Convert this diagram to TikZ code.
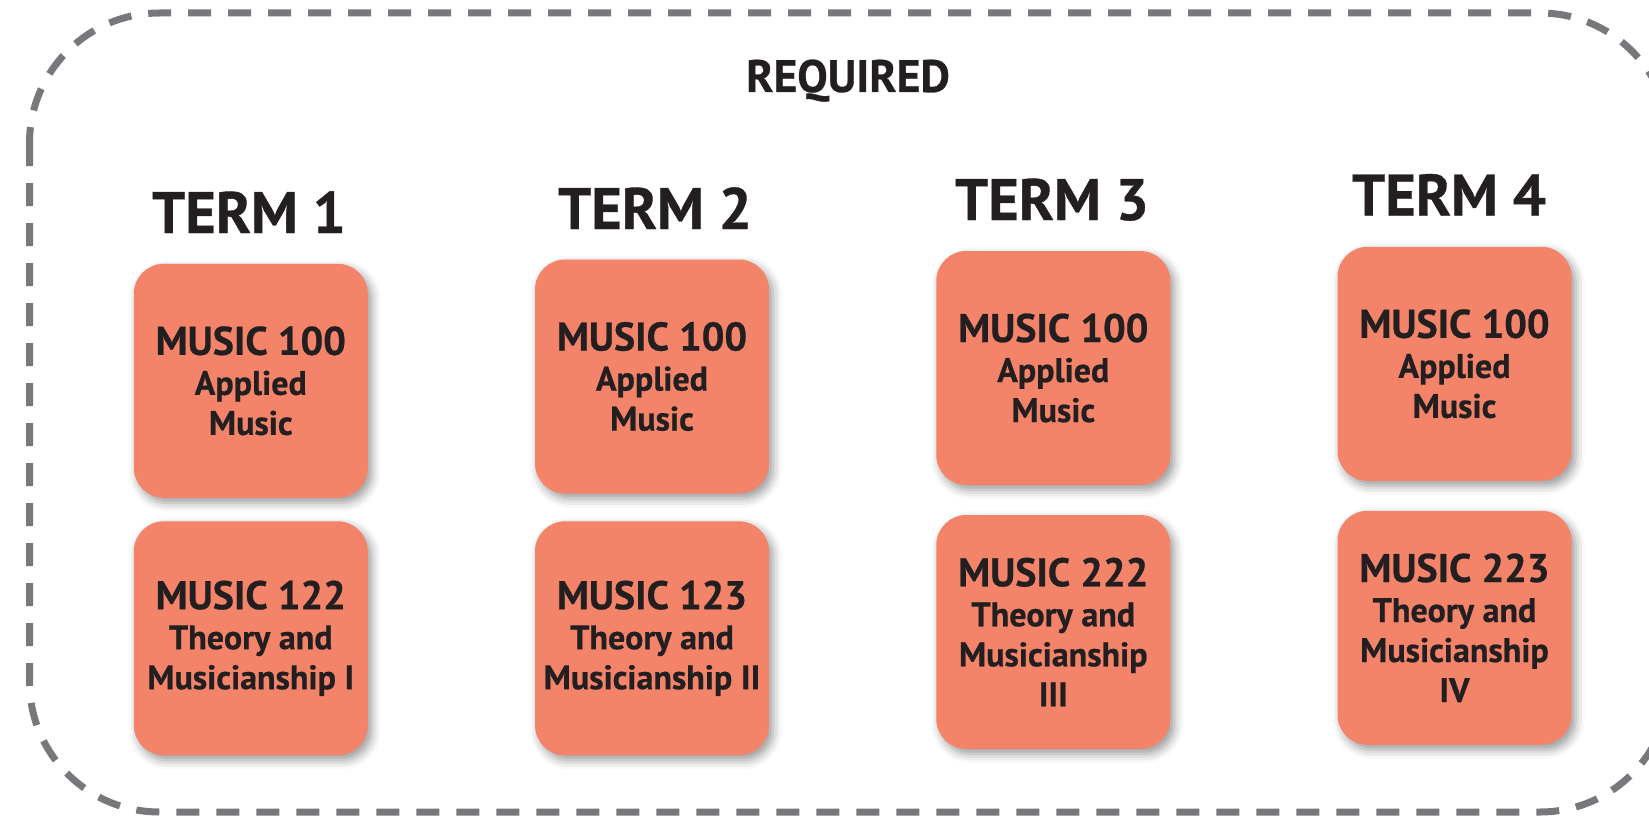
\documentclass[tikz,border=0pt]{standalone}
\usepackage{fontspec}
\setmainfont{PT Sans}[BoldFeatures={FakeBold=0.6}]
\usetikzlibrary{shadows.blur}
\definecolor{boxfill}{HTML}{F3846A}
\definecolor{ink}{HTML}{231F20}
\definecolor{dashgray}{HTML}{77787B}
\tikzset{
  course/.style={fill=boxfill, rounded corners=30pt, minimum width=234pt, minimum height=234pt,
    inner sep=0pt, align=center, text=ink, font=\bfseries\fontsize{34}{40}\selectfont,
    blur shadow={shadow xshift=4pt, shadow yshift=-5pt, shadow blur radius=9pt, shadow opacity=40}},
  termlabel/.style={anchor=base, text=ink, font=\bfseries\fontsize{58.5}{60}\selectfont, inner sep=0pt},
  heading/.style={anchor=base, text=ink, font=\bfseries\fontsize{45.5}{46}\selectfont, inner sep=0pt},
  frame/.style={draw=dashgray, line width=7pt, dash pattern=on 23pt off 17pt, rounded corners=130pt}
}
\newcommand{\code}[1]{{\fontsize{40}{40}\selectfont #1}}
\begin{document}
\begin{tikzpicture}[x=1pt,y=-1pt]
\useasboundingbox (0,0) rectangle (1649,816);
\begin{scope}
  \clip (0,0) rectangle (1649,816);
  \draw[frame] (29.5,13) rectangle (1670,812);
\end{scope}
\node[heading] (req) at (848,92) {REQUIRED};

\node[termlabel] (h1) at (249,233) {TERM 1};
\node[termlabel] (h2) at (655,229) {TERM 2};
\node[termlabel] (h3) at (1052,220) {TERM 3};
\node[termlabel] (h4) at (1449,215.5) {TERM 4};

\node[course] (t1a) at (250.8,380.8) {\code{MUSIC 100}\\Applied\\Music};
\node[course] (t1b) at (250.8,638.3) {\code{MUSIC 122}\\Theory and\\Musicianship I};
\node[course] (t2a) at (652,376.5) {\code{MUSIC 100}\\Applied\\Music};
\node[course] (t2b) at (652,638.3) {\code{MUSIC 123}\\Theory and\\Musicianship II};
\node[course] (t3a) at (1053.3,368) {\code{MUSIC 100}\\Applied\\Music};
\node[course] (t3b) at (1053.3,632) {\code{MUSIC 222}\\Theory and\\Musicianship\\III};
\node[course] (t4a) at (1454.5,363.8) {\code{MUSIC 100}\\Applied\\Music};
\node[course] (t4b) at (1454.5,627.8) {\code{MUSIC 223}\\Theory and\\Musicianship\\IV};
\end{tikzpicture}
\end{document}
